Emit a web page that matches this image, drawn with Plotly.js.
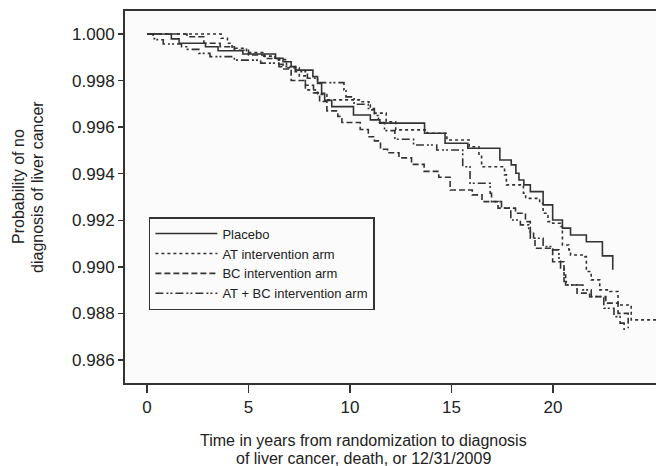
<!DOCTYPE html>
<html>
<head>
<meta charset="utf-8">
<script src="https://cdn.plot.ly/plotly-3.0.1.min.js"></script>
<style>html,body{margin:0;padding:0;background:#fff;}#chart{width:656px;height:466px;}</style>
</head>
<body>
<div id="chart"></div>
<script>
// Series names
const seriesNames = ["Placebo", "AT intervention arm", "BC intervention arm", "AT + BC intervention arm"];

// Placebo (solid)
const placeboT = [0, 1.2, 1.58, 2.88, 3.5, 4.72, 6.33, 6.7, 7.1, 7.33, 8.17, 8.4, 8.6, 8.75, 9.1, 10.17, 11.0, 11.47, 13.67, 14.68, 15.8, 17.38, 17.94, 18.17, 18.32, 18.56, 18.88, 19.51, 19.98, 20.46, 20.86, 21.64, 22.43, 22.94];
const placeboS = [1.0, 0.99979, 0.9996, 0.99945, 0.99928, 0.99914, 0.99896, 0.99881, 0.9986, 0.99845, 0.99817, 0.99788, 0.99745, 0.99715, 0.99688, 0.99652, 0.99631, 0.99617, 0.99574, 0.99531, 0.99509, 0.99459, 0.99438, 0.99402, 0.99373, 0.99352, 0.99323, 0.99266, 0.99201, 0.99166, 0.99137, 0.99108, 0.99047, 0.98987];

// AT intervention arm (dotted)
const atT = [0, 3.65, 3.96, 4.19, 4.9, 5.7, 6.3, 6.87, 7.5, 7.8, 8.4, 8.86, 10.55, 10.93, 11.0, 11.2, 11.78, 12.25, 13.8, 14.77, 15.87, 16.35, 16.48, 17.61, 17.7, 18.54, 18.65, 19.34, 19.51, 19.75, 19.98, 20.37, 20.46, 20.78, 20.86, 21.56, 21.64, 21.88, 22.3, 22.8, 23.2, 23.85, 25.5];
const atS = [1.0, 0.99982, 0.9996, 0.99939, 0.9992, 0.99905, 0.9989, 0.99855, 0.9982, 0.9976, 0.9974, 0.99717, 0.99709, 0.99695, 0.99674, 0.9966, 0.99623, 0.99588, 0.99574, 0.99545, 0.99516, 0.9948, 0.9943, 0.99395, 0.99352, 0.99316, 0.99294, 0.99273, 0.9923, 0.99194, 0.99187, 0.99173, 0.99094, 0.99073, 0.99051, 0.99044, 0.9898, 0.98944, 0.98901, 0.98894, 0.98836, 0.98772, 0.98772];

// BC intervention arm (dashed)
const bcT = [0, 1.97, 2.8, 3.6, 4.3, 5.0, 5.8, 6.5, 6.7, 7.1, 7.8, 8.2, 8.5, 8.86, 9.4, 9.6, 10.5, 10.9, 11.2, 11.5, 11.85, 12.41, 13.03, 13.65, 14.37, 14.93, 16.02, 16.5, 17.29, 18.15, 18.64, 18.88, 19.04, 19.11, 19.98, 20.54, 20.62, 21.18, 21.8, 22.6, 23.2, 23.7];
const bcS = [1.0, 0.99988, 0.9996, 0.99945, 0.9993, 0.9991, 0.99895, 0.9987, 0.9985, 0.998, 0.9978, 0.99747, 0.9971, 0.9967, 0.99646, 0.9962, 0.9959, 0.99559, 0.99541, 0.99505, 0.9949, 0.99468, 0.9944, 0.9941, 0.99385, 0.9933, 0.99309, 0.9928, 0.99252, 0.9923, 0.99194, 0.99144, 0.99116, 0.9908, 0.99022, 0.98965, 0.98922, 0.98887, 0.98872, 0.98844, 0.988, 0.98736];

// AT + BC intervention arm (dash-dot)
const atbcT = [0, 0.3, 0.5, 0.8, 1.7, 1.95, 2.55, 3.1, 4.3, 5.6, 6.5, 7.3, 7.9, 8.4, 9.7, 9.8, 10.2, 10.9, 11.2, 11.4, 11.7, 12.21, 13.13, 14.27, 15.55, 15.91, 16.9, 16.97, 17.46, 17.92, 18.39, 18.8, 18.88, 19.51, 19.98, 20.29, 20.37, 20.54, 20.65, 21.47, 21.88, 22.5, 23.0, 23.3, 23.5];
const atbcS = [1.0, 0.9998, 0.99975, 0.99957, 0.99945, 0.99934, 0.99917, 0.99903, 0.99888, 0.99875, 0.9986, 0.99838, 0.9981, 0.99791, 0.9976, 0.9973, 0.99698, 0.9968, 0.9965, 0.9962, 0.99585, 0.99548, 0.99523, 0.99502, 0.9943, 0.99359, 0.99316, 0.9928, 0.99252, 0.99201, 0.9918, 0.99151, 0.99123, 0.99087, 0.99073, 0.9903, 0.98994, 0.98937, 0.98922, 0.98901, 0.98872, 0.98822, 0.98786, 0.98758, 0.98722];

// Tick labels
const xTicks = [0, 5, 10, 15, 20];
const yTicks = [0.986, 0.988, 0.990, 0.992, 0.994, 0.996, 0.998, 1.000];

// Axis titles
const xTitleLines = ["Time in years from randomization to diagnosis", "of liver cancer, death, or 12/31/2009"];
const yTitleLines = ["Probability of no", "diagnosis of liver cancer"];

const ink = "#333333";
const txt = "#222222";
const FONT = "Liberation Sans, Arial, sans-serif";

function trace(t, s, name, dash) {
  return {x: t, y: s, name: name, type: "scatter", mode: "lines",
          line: {shape: "hv", color: ink, width: 1.6, dash: dash}};
}

const data = [
  trace(placeboT, placeboS, seriesNames[0], "solid"),
  trace(atT, atS, seriesNames[1], "dot"),
  trace(bcT, bcS, seriesNames[2], "6px,3px"),
  trace(atbcT, atbcS, seriesNames[3], "8px,3px,2px,2px,2px,3px")
];

const annotations = [
  {text: xTitleLines[0], xref: "paper", yref: "paper", x: 0.45, y: 0, yshift: -57, xanchor: "center", yanchor: "middle", showarrow: false, font: {family: FONT, size: 16, color: txt}},
  {text: xTitleLines[1], xref: "paper", yref: "paper", x: 0.45, y: 0, yshift: -75, xanchor: "center", yanchor: "middle", showarrow: false, font: {family: FONT, size: 16, color: txt}},
  {text: yTitleLines[0], xref: "paper", yref: "paper", x: 0, xshift: -106, y: 0.527, xanchor: "center", yanchor: "middle", textangle: -90, showarrow: false, font: {family: FONT, size: 16, color: txt}},
  {text: yTitleLines[1], xref: "paper", yref: "paper", x: 0, xshift: -87, y: 0.527, xanchor: "center", yanchor: "middle", textangle: -90, showarrow: false, font: {family: FONT, size: 16, color: txt}}
];

const layout = {
  width: 656, height: 466,
  margin: {l: 125, r: 0, t: 11, b: 83, pad: 0},
  paper_bgcolor: "#ffffff",
  plot_bgcolor: "#fbfbfb",
  font: {family: FONT, size: 16, color: txt},
  showlegend: true,
  legend: {x: 0.045, y: 0.446, xanchor: "left", yanchor: "top",
           bordercolor: ink, borderwidth: 1.5, bgcolor: "rgba(0,0,0,0)",
           font: {family: FONT, size: 13, color: txt}, itemwidth: 62, tracegroupgap: 0},
  annotations: annotations,
  xaxis: {range: [-1.084, 25.07], tickvals: xTicks, ticktext: xTicks.map(String),
          ticks: "outside", ticklen: 8, tickwidth: 1.5, tickcolor: ink,
          showline: true, linecolor: ink, linewidth: 2, mirror: true,
          showgrid: false, zeroline: false,
          tickfont: {family: FONT, size: 17, color: txt}},
  yaxis: {range: [0.98501, 1.000988], tickvals: yTicks, ticktext: yTicks.map(v => v.toFixed(3)),
          ticks: "outside", ticklen: 5, tickwidth: 1.5, tickcolor: ink,
          showline: true, linecolor: ink, linewidth: 2, mirror: false,
          showgrid: false, zeroline: false,
          tickfont: {family: FONT, size: 17, color: txt}}
};

Plotly.newPlot("chart", data, layout, {staticPlot: true, displayModeBar: false});
</script>
</body>
</html>
